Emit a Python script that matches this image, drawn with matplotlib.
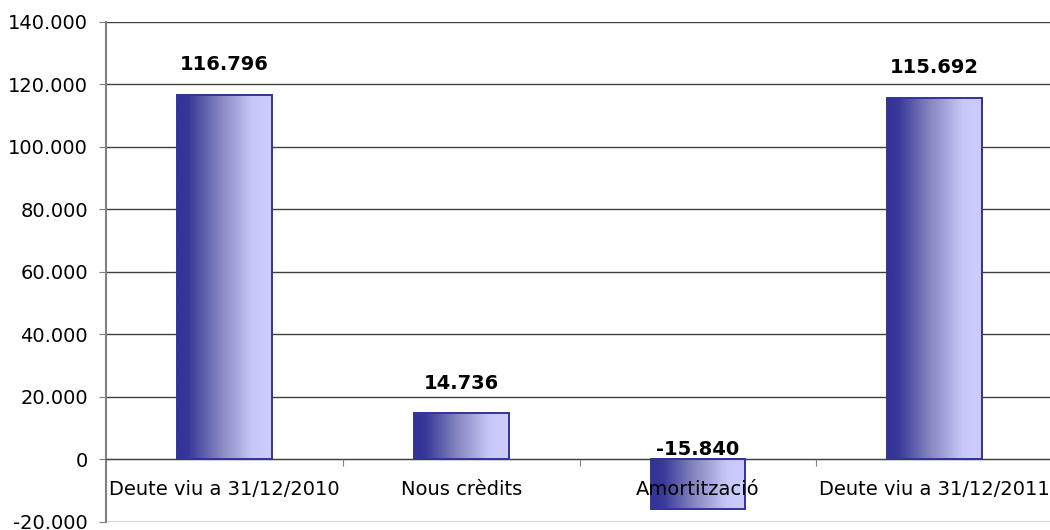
import matplotlib
matplotlib.use("Agg")
import matplotlib.pyplot as plt
import numpy as np
from matplotlib.colors import LinearSegmentedColormap
from matplotlib.ticker import FuncFormatter, FixedLocator

categories = ["Deute viu a 31/12/2010", "Nous crèdits", "Amortització", "Deute viu a 31/12/2011"]
values = [116796, 14736, -15840, 115692]
value_labels = ["116.796", "14.736", "-15.840", "115.692"]

plt.rcParams['font.family'] = ['DejaVu Sans']

fig = plt.figure(figsize=(10.5, 5.3), dpi=100)
ax = fig.add_axes([0.101, 0.0151, 0.902, 0.9434])

x = np.arange(len(categories))
bars = ax.bar(x, values, width=0.4, facecolor='none', edgecolor='#333399', linewidth=1.4, zorder=3)

# gradient fill, dark on the left to light lavender on the right
cmap = LinearSegmentedColormap.from_list(
    'grad', [(0.0, '#333399'), (0.12, '#383899'), (0.45, '#8585c0'), (0.8, '#c8c8f8'), (1.0, '#ccccff')])
grad = np.linspace(0, 1, 256).reshape(1, -1)
for b in bars:
    x0, w = b.get_x(), b.get_width()
    y0, h = b.get_y(), b.get_height()
    im = ax.imshow(grad, cmap=cmap, aspect='auto', extent=[x0, x0 + w, min(y0, y0 + h), max(y0, y0 + h)],
                   zorder=2, interpolation='bilinear')
    im.set_clip_path(b)

ax.set_xlim(-0.5, len(categories) - 0.5)
ax.set_ylim(-20000, 140000)
ax.set_yticks(np.arange(-20000, 140001, 20000))
ax.yaxis.set_major_formatter(FuncFormatter(lambda v, p: '{:,.0f}'.format(v).replace(',', '.')))
ax.grid(axis='y', color='#404040', linewidth=1, zorder=0)
ax.set_axisbelow(True)
ax.xaxis.set_zorder(4)  # category labels sit over the negative bar

for s in ['top', 'right']:
    ax.spines[s].set_visible(False)
ax.spines['left'].set_color('#808080')
ax.spines['left'].set_linewidth(1.5)
ax.spines['bottom'].set_position(('data', 0))
ax.spines['bottom'].set_color('#404040')

ax.xaxis.set_major_locator(FixedLocator(x[:-1] + 0.5))
ax.xaxis.set_major_formatter(FuncFormatter(lambda v, p: ''))
ax.xaxis.set_minor_locator(FixedLocator(x))
ax.set_xticklabels(categories, minor=True)
ax.tick_params(axis='x', which='major', length=5, color='#808080', direction='out')
ax.tick_params(axis='x', which='minor', length=0, pad=15, labelsize=14)
ax.tick_params(axis='y', length=5, color='#808080', labelsize=14, pad=8)

for xi, v, lab in zip(x, values, value_labels):
    if v >= 0:
        ax.annotate(lab, (xi, v), xytext=(0, 15), textcoords='offset points',
                    ha='center', va='bottom', fontsize=14, fontweight='bold', zorder=5)
    else:
        ax.annotate(lab, (xi, 0), xytext=(0, 0), textcoords='offset points',
                    ha='center', va='bottom', fontsize=14, fontweight='bold', zorder=5)

fig.savefig('out.png', dpi=100)
